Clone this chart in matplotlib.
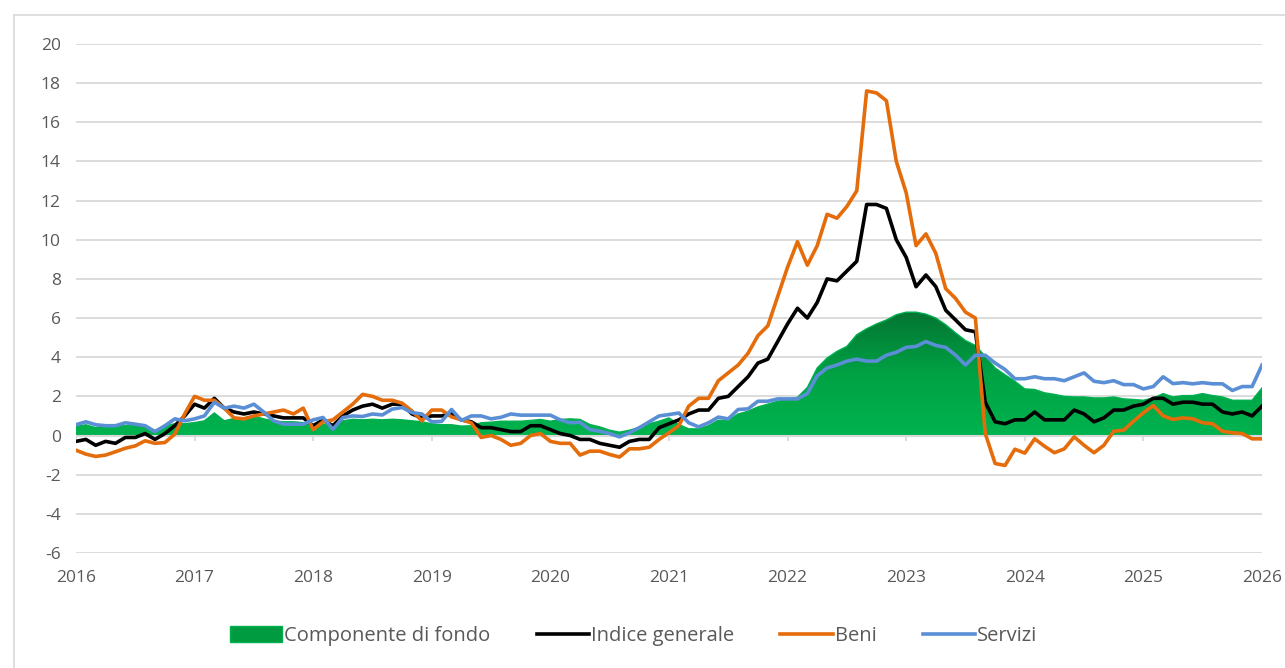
import numpy as np
import matplotlib
matplotlib.use('Agg')
import matplotlib.pyplot as plt
from matplotlib.colors import LinearSegmentedColormap
from matplotlib.patches import Patch
from matplotlib.lines import Line2D

plt.rcParams['font.family'] = ['Open Sans', 'DejaVu Sans']
plt.rcParams['axes.unicode_minus'] = False

# monthly values, first point sits on the 2016 tick, last on the 2026 tick
fondo = [0.46, 0.55, 0.4, 0.55, 0.5, 0.5, 0.55, 0.45, 0.25, 0.5, 0.6, 0.6,
         0.66, 0.75, 1.15, 0.75, 0.87, 0.9, 1.0, 0.85, 0.75, 0.7, 0.7, 0.66,
         0.58, 0.58, 0.58, 0.75, 0.83, 0.8, 0.83, 0.8, 0.83, 0.8, 0.75, 0.7,
         0.6, 0.55, 0.55, 0.48, 0.5, 0.65, 0.68, 0.73, 0.73, 0.73, 0.77, 0.82,
         0.73, 0.82, 0.85, 0.82, 0.56, 0.44, 0.27, 0.17, 0.27, 0.42, 0.6, 0.73,
         0.9, 0.56, 0.34, 0.34, 0.5, 0.78, 0.78, 1.1, 1.24, 1.46, 1.6, 1.75,
         1.84, 1.95, 2.45, 3.45, 3.96, 4.3, 4.55, 5.15, 5.45, 5.7, 5.9, 6.17,
         6.3, 6.3, 6.2, 6.0, 5.66, 5.24, 4.85, 4.6, 4.05, 3.45, 3.1, 2.77,
         2.38, 2.35, 2.18, 2.1, 2.0, 1.97, 1.97, 1.92, 1.92, 1.97, 1.87, 1.84,
         1.8, 1.92, 2.14, 1.97, 2.04, 2.04, 2.14, 2.04, 1.97, 1.8, 1.8, 1.8,
         2.43]

indice = [-0.3, -0.2, -0.5, -0.3, -0.4, -0.1, -0.1, 0.1, -0.2, 0.1, 0.5,
          1.0, 1.6, 1.4, 1.9, 1.4, 1.2, 1.1, 1.2, 1.1, 1.0, 0.9, 0.9,
          0.9, 0.5, 0.8, 0.5, 1.0, 1.3, 1.5, 1.6, 1.4, 1.6, 1.6, 1.1,
          0.9, 1.0, 1.0, 1.1, 0.8, 0.7, 0.4, 0.4, 0.3, 0.2, 0.2, 0.5,
          0.5, 0.3, 0.1, 0.0, -0.2, -0.2, -0.4, -0.5, -0.6, -0.3, -0.2, -0.2,
          0.4, 0.6, 0.8, 1.1, 1.3, 1.3, 1.9, 2.0, 2.5, 3.0, 3.7, 3.9,
          4.8, 5.7, 6.5, 6.0, 6.8, 8.0, 7.9, 8.4, 8.9, 11.8, 11.8, 11.6,
          10.0, 9.1, 7.6, 8.2, 7.6, 6.4, 5.9, 5.4, 5.3, 1.7, 0.7, 0.6,
          0.8, 0.8, 1.2, 0.8, 0.8, 0.8, 1.3, 1.1, 0.7, 0.9, 1.3, 1.3,
          1.5, 1.6, 1.9, 1.9, 1.6, 1.7, 1.7, 1.6, 1.6, 1.2, 1.1, 1.2,
          1.0, 1.5]

beni = [-0.75, -0.95, -1.07, -1.0, -0.83, -0.65, -0.53, -0.27, -0.4, -0.36, 0.07, 1.1,
        2.0, 1.8, 1.8, 1.4, 0.9, 0.85, 1.0, 1.1, 1.2, 1.3, 1.1, 1.4,
        0.3, 0.7, 0.8, 1.2, 1.6, 2.1, 2.0, 1.8, 1.8, 1.65, 1.25, 0.75,
        1.3, 1.3, 0.95, 0.8, 0.65, -0.1, 0.0, -0.2, -0.5, -0.4, 0.0, 0.1,
        -0.3, -0.4, -0.4, -1.0, -0.8, -0.8, -0.97, -1.1, -0.68, -0.68, -0.6, -0.2,
        0.14, 0.5, 1.5, 1.9, 1.9, 2.8, 3.2, 3.6, 4.2, 5.1, 5.6, 7.1,
        8.6, 9.9, 8.7, 9.7, 11.3, 11.1, 11.7, 12.5, 17.6, 17.5, 17.1, 14.0,
        12.4, 9.7, 10.3, 9.3, 7.5, 7.0, 6.3, 6.0, 0.1, -1.43, -1.53, -0.7,
        -0.9, -0.17, -0.55, -0.88, -0.68, -0.07, -0.5, -0.88, -0.5, 0.22, 0.27, 0.73,
        1.16, 1.53, 1.0, 0.82, 0.9, 0.85, 0.65, 0.6, 0.22, 0.14, 0.1, -0.17,
        -0.17]

servizi = [0.55, 0.7, 0.55, 0.5, 0.5, 0.65, 0.58, 0.5, 0.2, 0.5, 0.85, 0.75,
           0.85, 1.0, 1.7, 1.4, 1.5, 1.4, 1.6, 1.2, 0.75, 0.58, 0.58, 0.58,
           0.8, 0.92, 0.32, 0.92, 1.0, 0.97, 1.1, 1.05, 1.35, 1.43, 1.17, 1.1,
           0.7, 0.72, 1.33, 0.77, 1.0, 1.0, 0.85, 0.93, 1.1, 1.04, 1.04, 1.04,
           1.04, 0.8, 0.65, 0.68, 0.3, 0.22, 0.1, -0.07, 0.14, 0.4, 0.7, 1.0,
           1.07, 1.15, 0.65, 0.44, 0.65, 0.94, 0.85, 1.33, 1.36, 1.75, 1.75, 1.87,
           1.87, 1.87, 2.15, 3.05, 3.45, 3.6, 3.8, 3.9, 3.8, 3.8, 4.1, 4.25,
           4.5, 4.55, 4.8, 4.6, 4.5, 4.1, 3.6, 4.1, 4.1, 3.7, 3.37, 2.9,
           2.9, 3.0, 2.9, 2.9, 2.8, 3.0, 3.2, 2.77, 2.7, 2.8, 2.6, 2.6,
           2.38, 2.5, 3.0, 2.65, 2.7, 2.64, 2.7, 2.64, 2.64, 2.3, 2.5, 2.5,
           3.6]

anni = list(range(2016, 2027))

x = np.arange(len(indice))
grey = '#595959'
grid = '#d9d9d9'

fig = plt.figure(figsize=(12.85, 6.68), dpi=100)
ax = fig.add_axes([0.0591, 0.1722, 0.923, 0.762])

ax.set_xlim(0, 120)
ax.set_ylim(-6, 20)
ax.set_yticks(range(-6, 21, 2))
for v in range(-6, 21, 2):
    ax.axhline(v, color=grid, lw=1.3, zorder=0)

# area with vertical gradient clipped to its own shape
area = ax.fill_between(x, 0, fondo, facecolor='none', edgecolor='none', zorder=1)
cmap = LinearSegmentedColormap.from_list('fondo', ['#00b34f', '#00a244', '#037532'])
grad = np.linspace(0, 1, 256).reshape(-1, 1)
img = ax.imshow(grad, cmap=cmap, origin='lower', aspect='auto',
                extent=(0, 120, 0, max(fondo)), zorder=1)
img.set_clip_path(area.get_paths()[0], transform=ax.transData)
ax.plot(x, fondo, color='#00b050', lw=1.0, zorder=1.5)

# category axis at zero with small tick marks
ax.axhline(0, color=grid, lw=1.5, zorder=1.6)
ax.vlines(np.arange(0, 121, 12), -0.27, 0, color=grid, lw=1.3, zorder=1.6)

ax.plot(x, indice, color='black', lw=2.6, zorder=3, solid_joinstyle='round')
ax.plot(x, beni, color='#e46c0a', lw=2.6, zorder=4, solid_joinstyle='round')
ax.plot(x, servizi, color='#5a8fd6', lw=2.6, zorder=5, solid_joinstyle='round')

ax.set_xticks(np.arange(0, 121, 12))
ax.set_xticklabels([str(a) for a in anni])
ax.tick_params(axis='x', length=0, pad=12, labelsize=12.5, labelcolor=grey)
ax.tick_params(axis='y', length=0, pad=11, labelsize=12.5, labelcolor=grey)
for s in ax.spines.values():
    s.set_visible(False)

handles = [Patch(facecolor='#009b40', edgecolor='#00b050'),
           Line2D([], [], color='black', lw=2.6),
           Line2D([], [], color='#e46c0a', lw=2.6),
           Line2D([], [], color='#5a8fd6', lw=2.6)]
labels = ['Componente di fondo', 'Indice generale', 'Beni', 'Servizi']
fig.legend(handles, labels, loc='center', bbox_to_anchor=(0.493, 0.048), ncol=4,
           frameon=False, fontsize=14.5, labelcolor=grey, handlelength=2.6,
           handleheight=0.8, handletextpad=0.1, columnspacing=2.3)

# chart area border
fig.add_artist(Line2D([14 / 1285, 14 / 1285], [0, 1 - 15 / 668], color=grid, lw=1.2))
fig.add_artist(Line2D([14 / 1285, 1], [1 - 15 / 668, 1 - 15 / 668], color=grid, lw=1.2))

fig.savefig('out.png', dpi=100)
